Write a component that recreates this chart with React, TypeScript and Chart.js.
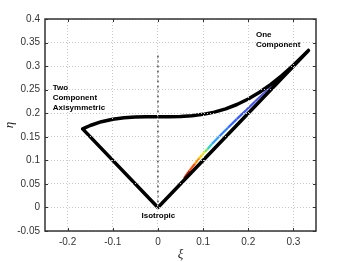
import React, { useEffect, useRef } from "react";
import { Chart, registerables } from "chart.js";

Chart.register(...registerables);

// ---- data ----
const xTicks = [-0.2, -0.1, 0, 0.1, 0.2, 0.3];
const yTicks = [-0.05, 0, 0.05, 0.1, 0.15, 0.2, 0.25, 0.3, 0.35, 0.4];
const xMin = -0.25;
const xMax = 0.35;
const yMin = -0.05;
const yMax = 0.4;

// two-component limit (from one-component corner to axisymmetric corner)
const curveXi = [0.3333, 0.3, 0.275, 0.25, 0.225, 0.2, 0.175, 0.15, 0.125, 0.1, 0.075, 0.05, 0.025, 0, -0.025, -0.05, -0.075, -0.1, -0.125, -0.15, -0.1667];
const curveEta = [0.3333, 0.3017, 0.2804, 0.2613, 0.2446, 0.2303, 0.2185, 0.2093, 0.2023, 0.1976, 0.1946, 0.1931, 0.1925, 0.1925, 0.1924, 0.1918, 0.1903, 0.1872, 0.182, 0.174, 0.1667];
// axisymmetric corner -> isotropic -> one-component corner
const edgeXi = [0, 0.3333];
const edgeEta = [0, 0.3333];

// vertical dotted line at xi = 0
const centerXi = [0, 0];
const centerEta = [0, 0.325];

// coloured trajectory
const trajXi = [0.058, 0.07, 0.082, 0.092, 0.098, 0.104, 0.11, 0.12, 0.135, 0.155, 0.175, 0.195, 0.215, 0.235, 0.256];
const trajEta = [0.062, 0.078, 0.093, 0.105, 0.112, 0.118, 0.124, 0.135, 0.15, 0.169, 0.188, 0.206, 0.225, 0.243, 0.262];

// annotations
const labelTwo = ["Two", "Component", "Axisymmetric"];
const labelOne = ["One", "Component"];
const labelIso = ["Isotropic"];

// ---- styles ----
const trajColors = ["#c81e00", "#ff4a00", "#ff9600", "#ffd200", "#e6f028", "#7de650", "#28d2c8", "#28a0ff", "#2f80ff", "#3366ff", "#3a5af5", "#4455ee", "#4e55e0", "#5a5ad8", "#6464d0"];
const frameColor = "#333333";

const fmt = (v: number) => String(Number(Number(v).toFixed(2)));

export default function App() {
  const ref = useRef<HTMLCanvasElement | null>(null);

  useEffect(() => {
    const canvas = ref.current;
    if (!canvas) return;

    const boundary = curveXi.map((x, i) => ({ x, y: curveEta[i] })).concat(
      edgeXi.map((x, i) => ({ x, y: edgeEta[i] }))
    );
    const center = centerXi.map((x, i) => ({ x, y: centerEta[i] }));
    const traj = trajXi.map((x, i) => ({ x, y: trajEta[i] }));

    const overlay = {
      id: "overlay",
      afterDraw(chart: any) {
        const { ctx, chartArea: a, scales } = chart;
        const xs = scales.x;
        const ys = scales.y;
        ctx.save();
        // frame
        ctx.strokeStyle = frameColor;
        ctx.lineWidth = 1.5;
        ctx.strokeRect(a.left, a.top, a.right - a.left, a.bottom - a.top);
        // inward ticks
        ctx.lineWidth = 1;
        const tl = 3;
        ctx.beginPath();
        xTicks.forEach((v) => {
          const px = Math.round(xs.getPixelForValue(v)) + 0.5;
          ctx.moveTo(px, a.bottom);
          ctx.lineTo(px, a.bottom - tl);
          ctx.moveTo(px, a.top);
          ctx.lineTo(px, a.top + tl);
        });
        yTicks.forEach((v) => {
          const py = Math.round(ys.getPixelForValue(v)) + 0.5;
          ctx.moveTo(a.left, py);
          ctx.lineTo(a.left + tl, py);
          ctx.moveTo(a.right, py);
          ctx.lineTo(a.right - tl, py);
        });
        ctx.stroke();
        // annotations
        ctx.fillStyle = "#000";
        ctx.font = "bold 8px 'Liberation Sans', Arial, sans-serif";
        ctx.textBaseline = "middle";
        const lh = 10;
        ctx.textAlign = "left";
        let x0 = xs.getPixelForValue(-0.233);
        let y0 = ys.getPixelForValue(0.254);
        labelTwo.forEach((t, i) => ctx.fillText(t, x0, y0 + i * lh));
        x0 = xs.getPixelForValue(0.217);
        y0 = ys.getPixelForValue(0.367);
        labelOne.forEach((t, i) => ctx.fillText(t, x0, y0 + i * lh));
        ctx.textAlign = "center";
        x0 = xs.getPixelForValue(0.001);
        y0 = ys.getPixelForValue(-0.018);
        labelIso.forEach((t, i) => ctx.fillText(t, x0, y0 + i * lh));
        ctx.restore();
      },
    };

    const chart = new Chart(canvas, {
      type: "scatter",
      data: {
        datasets: [
          {
            data: center,
            showLine: true,
            borderColor: "#4a4a4a",
            borderWidth: 1.5,
            borderDash: [2, 3],
            pointRadius: 0,
          },
          {
            data: boundary,
            showLine: true,
            borderColor: "#000000",
            borderWidth: 3.5,
            borderJoinStyle: "round",
            borderCapStyle: "round",
            pointRadius: 0,
          },
          {
            data: traj,
            showLine: true,
            borderWidth: 2.2,
            borderColor: trajColors[0],
            segment: {
              borderColor: (c: any) => trajColors[c.p0DataIndex],
            },
            pointRadius: 0,
          },
        ],
      },
      options: {
        responsive: false,
        animation: false,
        events: [],
        layout: { padding: { top: 19, right: 33, left: 0, bottom: 0 } },
        plugins: { legend: { display: false }, tooltip: { enabled: false } },
        scales: {
          x: {
            type: "linear",
            min: xMin,
            max: xMax,
            afterFit: (s: any) => {
              s.height = 31;
            },
            afterBuildTicks: (s: any) => {
              s.ticks = xTicks.map((value) => ({ value }));
            },
            grid: { color: "#c8c8c8", lineWidth: 1, drawTicks: false, z: 1 },
            border: { display: false, dash: [1, 2] },
            ticks: {
              autoSkip: false,
              padding: 5,
              maxRotation: 0,
              color: "#333333",
              font: { family: "'Liberation Sans', Arial, sans-serif", size: 10 },
              callback: (v: any) => fmt(v),
            },
            title: {
              display: true,
              text: "ξ",
              color: "#222222",
              padding: { top: 0, bottom: 0 },
              font: { family: "'Liberation Serif', serif", size: 13, style: "italic" },
            },
          },
          y: {
            type: "linear",
            min: yMin,
            max: yMax,
            afterFit: (s: any) => {
              s.width = 45;
            },
            afterBuildTicks: (s: any) => {
              s.ticks = yTicks.map((value) => ({ value }));
            },
            grid: { color: "#c8c8c8", lineWidth: 1, drawTicks: false, z: 1 },
            border: { display: false, dash: [1, 2] },
            ticks: {
              autoSkip: false,
              padding: 5,
              color: "#333333",
              font: { family: "'Liberation Sans', Arial, sans-serif", size: 10 },
              callback: (v: any) => fmt(v),
            },
            title: {
              display: true,
              text: "η",
              color: "#222222",
              padding: { top: 2, bottom: 0 },
              font: { family: "'Liberation Serif', serif", size: 13, style: "italic" },
            },
          },
        },
      },
      plugins: [overlay],
    } as any);

    return () => chart.destroy();
  }, []);

  return (
    <div style={{ position: "absolute", left: 0, top: 0, width: 349, height: 262, background: "#fff" }}>
      <canvas ref={ref} width={349} height={262} style={{ display: "block" }} />
    </div>
  );
}
